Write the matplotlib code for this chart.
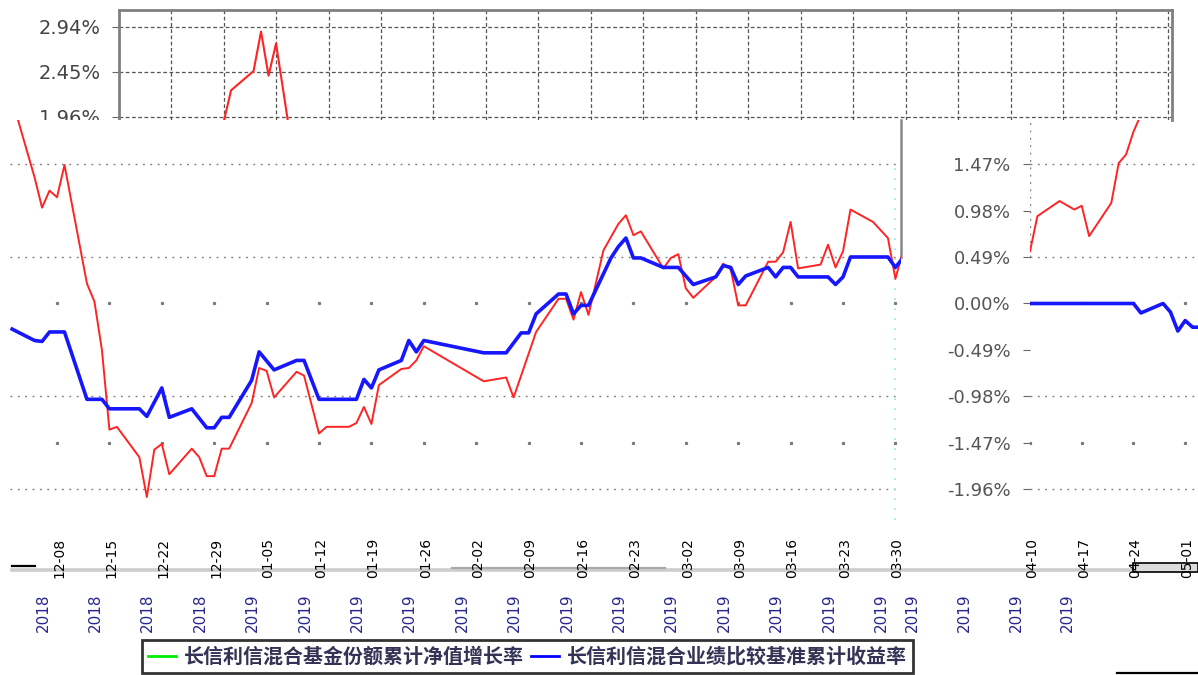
import matplotlib
matplotlib.use('Agg')
import matplotlib.pyplot as plt
import matplotlib.transforms as mtransforms
from matplotlib.lines import Line2D
from matplotlib.patches import Rectangle
from matplotlib.font_manager import FontProperties

plt.rcParams['font.family'] = ['DejaVu Sans', 'Noto Sans CJK SC']

# ---------------- data ----------------
fund_name = '长信利信混合基金份额累计净值增长率'
bench_name = '长信利信混合业绩比较基准累计收益率'

# main panel: calendar-day offsets from 2018-12-08
main_ticks = [0, 7, 14, 21, 28, 35, 42, 49, 56, 63, 70, 77, 84, 91, 98, 105, 112]
main_dates = ['2018-12-08', '2018-12-15', '2018-12-22', '2018-12-29', '2019-01-05',
              '2019-01-12', '2019-01-19', '2019-01-26', '2019-02-02', '2019-02-09',
              '2019-02-16', '2019-02-23', '2019-03-02', '2019-03-09', '2019-03-16',
              '2019-03-23', '2019-03-30']

fund_day = [-6, -3, -2, -1, 0, 1, 4, 5, 6, 7, 8, 11, 12, 13, 14, 15, 18, 19, 20, 21,
            22, 23, 26, 27, 28, 29, 32, 33, 35, 36, 39, 40, 41, 42, 43, 46, 47, 48, 49,
            57, 60, 61, 64, 67, 68, 69, 70, 71, 73, 75, 76, 77, 78, 81, 82, 83, 84, 85,
            88, 89, 90, 91, 92, 95, 96, 97, 98, 99, 102, 103, 104, 105, 106, 109, 111,
            112, 113]
fund_pct = [2.15, 1.33, 1.01, 1.19, 1.12, 1.46, 0.21, 0.02, -0.49, -1.33, -1.30, -1.62,
            -2.04, -1.54, -1.48, -1.80, -1.53, -1.62, -1.82, -1.82, -1.53, -1.53, -1.05,
            -0.68, -0.71, -0.99, -0.72, -0.76, -1.37, -1.30, -1.30, -1.26, -1.09, -1.27,
            -0.86, -0.69, -0.68, -0.60, -0.45, -0.82, -0.78, -0.99, -0.30, 0.05, 0.05,
            -0.17, 0.12, -0.12, 0.56, 0.84, 0.93, 0.72, 0.76, 0.37, 0.48, 0.52, 0.16,
            0.06, 0.28, 0.42, 0.36, -0.02, -0.02, 0.44, 0.44, 0.54, 0.86, 0.37, 0.41,
            0.62, 0.38, 0.55, 0.99, 0.86, 0.69, 0.26, 0.55]

bench_day = [-6, -3, -2, -1, 1, 4, 6, 7, 11, 12, 14, 15, 18, 20, 21, 22, 23, 26, 27, 29,
             32, 33, 35, 40, 41, 42, 43, 46, 47, 48, 49, 57, 60, 62, 63, 64, 67, 68, 69,
             70, 71, 74, 75, 76, 77, 78, 81, 83, 85, 88, 89, 90, 91, 92, 95, 96, 97, 98,
             99, 103, 104, 105, 106, 111, 112, 113]
bench_pct = [-0.27, -0.39, -0.40, -0.30, -0.30, -1.01, -1.01, -1.11, -1.11, -1.19, -0.89,
             -1.20, -1.11, -1.31, -1.31, -1.20, -1.20, -0.81, -0.51, -0.70, -0.60, -0.60,
             -1.01, -1.01, -0.80, -0.89, -0.70, -0.60, -0.39, -0.51, -0.39, -0.52, -0.52,
             -0.31, -0.31, -0.11, 0.10, 0.10, -0.11, -0.02, -0.02, 0.48, 0.60, 0.69, 0.48,
             0.48, 0.38, 0.38, 0.20, 0.28, 0.40, 0.38, 0.20, 0.29, 0.38, 0.28, 0.38, 0.38,
             0.28, 0.28, 0.20, 0.28, 0.49, 0.49, 0.38, 0.48]

# right panel: calendar-day offsets from 2019-04-10
right_ticks = [-14, -7, 0, 7, 14, 21]
right_dates = ['2019-03-27', '2019-04-03', '2019-04-10', '2019-04-17', '2019-04-24',
               '2019-05-01']
fund_day_r = [0, 1, 4, 6, 7, 8, 11, 12, 13, 14, 15]
fund_pct_r = [0.55, 0.92, 1.08, 0.99, 1.03, 0.71, 1.06, 1.48, 1.57, 1.81, 1.99]
bench_day_r = [0, 14, 15, 18, 19, 20, 21, 22, 23]
bench_pct_r = [0.00, 0.00, -0.10, 0.00, -0.09, -0.29, -0.18, -0.25, -0.25]

# top panel
top_day = [14, 15, 18, 19, 20, 21, 23]
top_pct = [1.90, 2.25, 2.46, 2.89, 2.41, 2.76, 1.69]

right_levels = [1.47, 0.98, 0.49, 0.00, -0.49, -0.98, -1.47, -1.96]
right_labels = ['1.47%', '0.98%', '0.49%', '0.00%', '-0.49%', '-0.98%', '-1.47%', '-1.96%']
top_levels = [2.94, 2.45, 1.96]
top_labels = ['2.94%', '2.45%', '1.96%']
dense_levels = [1.47, 0.49, -0.98, -1.96]
sparse_levels = [0.00, -1.47]

# ---------------- style ----------------
RED = '#ff2424'
BLUE = '#1616ff'
GRID = '#7a7a7a'
W, H = 1198, 675
fig = plt.figure(figsize=(W / 100, H / 100), dpi=100)


def rect(l, t, w, h):
    return [l / W, 1 - (t + h) / H, w / W, h / H]


YLO, YHI = -2.282, 1.934

# top panel
ax_top = fig.add_axes(rect(118.6, 10, 1053.4, 110), zorder=1)
ax_top.set_xlim(0, 140.5)
ax_top.set_ylim(1.927, 3.125)
ax_top.set_xticks(list(range(0, 141, 7)))
ax_top.tick_params(axis='x', length=0, labelbottom=False)
ax_top.set_yticks(top_levels)
ax_top.set_yticklabels(top_labels)
ax_top.tick_params(axis='y', length=5, color='#666666', pad=8, labelsize=14,
                   labelcolor='#444444')
ax_top.grid(True, ls=(0, (3, 2)), color='#555555', lw=0.9)
for s in ['left', 'top', 'right']:
    ax_top.spines[s].set_color('#808080')
    ax_top.spines[s].set_linewidth(2)
ax_top.spines['bottom'].set_visible(False)
ax_top.plot(top_day, top_pct, color=RED, lw=1.5)

# main panel
ax = fig.add_axes(rect(10, 120, 891.4, 400), zorder=2)
ax.set_facecolor('white')
ax.set_xlim(-6.28, 112.8)
ax.set_ylim(YLO, YHI)
ax.set_xticks([])
ax.set_yticks([])
for s in ['left', 'top', 'bottom']:
    ax.spines[s].set_visible(False)
ax.spines['right'].set_bounds(0.49, YHI)
ax.spines['right'].set_color('#888888')
ax.spines['right'].set_linewidth(1.8)
for lv in dense_levels:
    ax.axhline(lv, color=GRID, ls=(0, (1.3, 4)), lw=1.0, zorder=1)
for lv in sparse_levels:
    ax.plot(main_ticks, [lv] * len(main_ticks), ls='none', marker='s', ms=1.3,
            color=GRID, zorder=1)
ax.axvline(112, ymin=0.0, ymax=0.9, color='#8fe6e6', ls=(0, (1, 5)), lw=1.2, zorder=1)
ax.plot(fund_day, fund_pct, color=RED, lw=1.4, zorder=3)
ax.plot(bench_day, bench_pct, color=BLUE, lw=2.6, zorder=4)

# right panel
ax_r = fig.add_axes(rect(1030, 120, 168, 400), zorder=3)
ax_r.set_facecolor('none')
ax_r.set_xlim(0, 22.73)
ax_r.set_ylim(YLO, YHI)
ax_r.set_xticks([])
ax_r.set_yticks(right_levels)
ax_r.set_yticklabels(right_labels)
ax_r.tick_params(axis='y', length=5, color='#666666', pad=9, labelsize=13,
                 labelcolor='#555555')
for s in ax_r.spines.values():
    s.set_visible(False)
for lv in dense_levels:
    ax_r.axhline(lv, color=GRID, ls=(0, (1.3, 4)), lw=1.0, zorder=1)
for lv in sparse_levels:
    ax_r.plot(right_ticks, [lv] * len(right_ticks), ls='none', marker='s', ms=1.3,
              color=GRID, zorder=1)
ax_r.axvline(0, ymin=(0.49 - YLO) / (YHI - YLO), ymax=1, color=GRID,
             ls=(0, (1.3, 4)), lw=1.0, zorder=1)
ax_r.plot(fund_day_r, fund_pct_r, color=RED, lw=1.4, zorder=3)
ax_r.plot(bench_day_r, bench_pct_r, color=BLUE, lw=2.6, zorder=4)

# rotated date labels
for a, ticks, labels, panel in [(ax, main_ticks, main_dates, 'main'),
                                (ax_r, right_ticks, right_dates, 'right')]:
    tr = mtransforms.blended_transform_factory(a.transData, fig.transFigure)
    tr_top = mtransforms.offset_copy(tr, fig=fig, x=2, y=0, units='dots')
    tr_bot = mtransforms.offset_copy(tr, fig=fig, x=-14, y=0, units='dots')
    for t, lab in zip(ticks, labels):
        year, md = lab[:4], lab[5:]
        show_top = panel == 'main' or t >= 0
        show_bot = panel == 'main' or t < 14
        if show_top:
            a.text(t, 1 - 578 / H, md, transform=tr_top, rotation=90, ha='center',
                   va='bottom', fontsize=10, color='black', clip_on=False)
        if show_bot:
            a.text(t, 1 - 632 / H, year, transform=tr_bot, rotation=90, ha='center',
                   va='bottom', fontsize=11, color='#26268f', clip_on=False)

# decorative bars under the tick area
fig.add_artist(Line2D([12 / W, 1198 / W], [1 - 570 / H] * 2, transform=fig.transFigure,
                      color='#cdcdcd', lw=2.6, zorder=0.5))
fig.add_artist(Line2D([452 / W, 665 / W], [1 - 568 / H] * 2, transform=fig.transFigure,
                      color='#aaaaaa', lw=1.6, zorder=0.6))
fig.add_artist(Line2D([12 / W, 35 / W], [1 - 566 / H] * 2, transform=fig.transFigure,
                      color='black', lw=1.6, zorder=0.6))
fig.add_artist(Rectangle((1133 / W, 1 - 572 / H), 65 / W, 9 / H, transform=fig.transFigure,
                         facecolor='#dddddd', edgecolor='black', lw=1.2, zorder=0.6))
fig.add_artist(Line2D([1117 / W, 1198 / W], [1 - 673 / H] * 2, transform=fig.transFigure,
                      color='black', lw=1.6, zorder=0.6))

# legend
handles = [Line2D([], [], color='#00ee00', lw=2), Line2D([], [], color='#0000ff', lw=2)]
leg = fig.legend(handles, [fund_name, bench_name], loc='upper left',
                 bbox_to_anchor=(142 / W, 1 - 640 / H), ncol=2, frameon=True,
                 fancybox=False, edgecolor='black', borderaxespad=0, handlelength=1.4,
                 handletextpad=0.4, columnspacing=0.35, borderpad=0.3,
                 prop=FontProperties(family=['Noto Sans CJK SC', 'DejaVu Sans'],
                                     size=14.4, weight='bold'))
leg.get_frame().set_linewidth(2)
for txt in leg.get_texts():
    txt.set_color('#333355')

fig.savefig('out.png', dpi=100)
